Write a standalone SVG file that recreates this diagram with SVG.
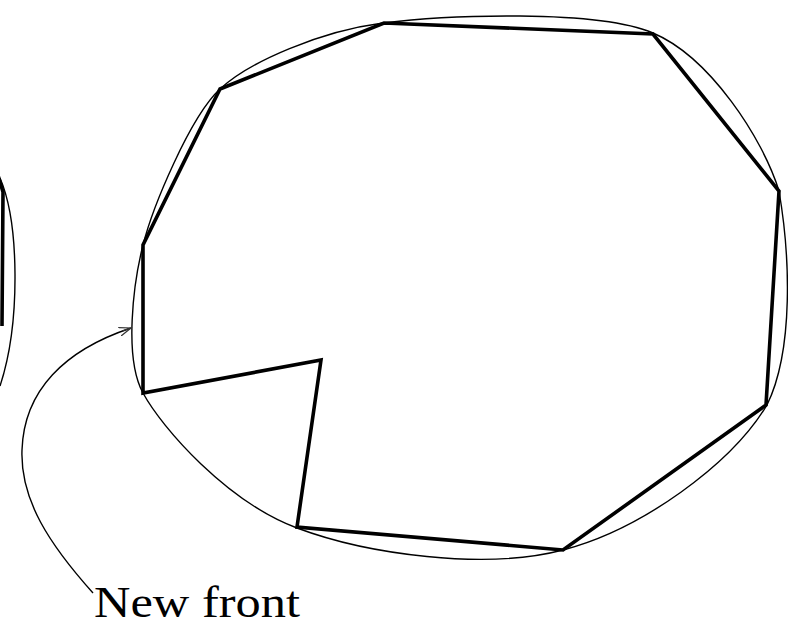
<svg xmlns="http://www.w3.org/2000/svg" width="788" height="627" viewBox="0 0 788 627">
<style>
.thin{fill:none;stroke:#000;stroke-width:1.4}
.thick{fill:none;stroke:#000;stroke-width:3.6;stroke-linejoin:miter}
.lbl{font-family:"Liberation Serif","Times New Roman",serif;font-size:45px;fill:#000}
</style>
<defs>
<marker id="ah" markerWidth="14" markerHeight="10" refX="12" refY="5" orient="auto" markerUnits="userSpaceOnUse">
<path d="M0,0.5 L12,5 L0,9.5 M3,5 L12,5" fill="none" stroke="#333" stroke-width="1.2"/>
</marker>
</defs>
<rect width="788" height="627" fill="#fff"/>
<g id="left-partial">
<path class="thin" d="M0,178 C19,222 21,322 0,386"/>
<polyline class="thick" points="-3,172 3,192 2,326"/>
</g>
<g id="boundary">
<path class="thin" d="M143,245 C133.4,283 123.7,357.6 143,393 C162.3,428.4 227,501.8 297,528 C367,554.2 484.7,570.5 563,550 C641.3,529.5 731,464.8 767,405 C794,350 790,255 779,191 C762.7,137.9 709.6,57 653,33 C596.4,9 444.9,15 383,23 C321.1,31 250,61.2 220,89 C190,116.8 152.6,207 143,245 Z"/>
</g>
<g id="front">
<polygon class="thick" points="143,245 143,393 321,360 297,527 563,550 766,405 779,191 653,34 384,23 220,89"/>
</g>
<g id="connectors">
<path class="thin" d="M93,593 C50,545 20,500 22,450 C24,390 65,350 131,328" stroke="#333" marker-end="url(#ah)"/>
</g>
<g id="label">
<text class="lbl" x="94" y="617" textLength="206" lengthAdjust="spacingAndGlyphs">New front</text>
</g>
</svg>
